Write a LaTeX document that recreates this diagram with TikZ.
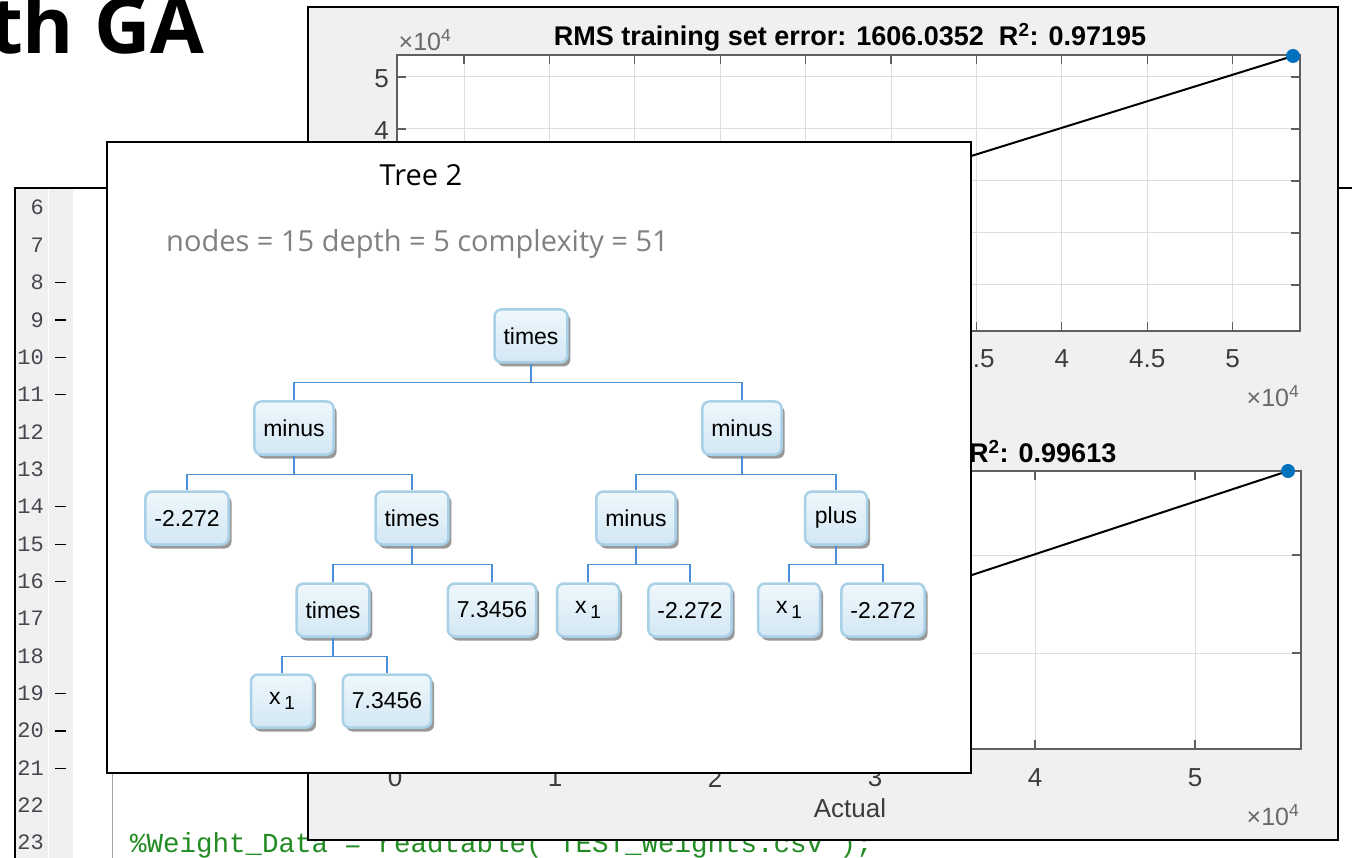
\documentclass[tikz,border=0pt]{standalone}
\usepackage{fontspec}
\setmainfont{Open Sans}
\newfontfamily\mlfont{Liberation Sans}
\newfontfamily\codefont[Ligatures=TeXOff]{Liberation Mono}
\usepackage{tikz}
\usetikzlibrary{positioning,calc,shadows}
\definecolor{figgrey}{RGB}{240,240,240}
\definecolor{guttergrey}{RGB}{240,240,240}
\definecolor{gridgrey}{RGB}{222,222,222}
\definecolor{axisgrey}{RGB}{95,95,95}
\definecolor{ticktext}{RGB}{60,60,60}
\definecolor{expgrey}{RGB}{105,105,105}
\definecolor{mlblue}{RGB}{0,114,189}
\definecolor{treeline}{RGB}{74,144,217}
\definecolor{boxedge}{RGB}{168,208,230}
\definecolor{boxtop}{RGB}{239,247,252}
\definecolor{boxbot}{RGB}{210,231,244}
\definecolor{codegreen}{RGB}{34,139,34}
\definecolor{lnumgrey}{RGB}{70,70,80}
\newcommand{\sz}[1]{\fontsize{#1}{#1}\selectfont}
\newcommand{\xone}{x\,\raisebox{-5pt}{\sz{19}1}}

\begin{document}
\begin{tikzpicture}[
      x=1pt, y=-1pt,
      tnode/.style={draw=boxedge, line width=2.5pt, rounded corners=7pt,
                    top color=boxtop, bottom color=boxbot, text=black,
                    minimum height=53pt, minimum width=62pt, inner xsep=9pt,
                    font=\mlfont\sz{23},
                    drop shadow={shadow xshift=3pt, shadow yshift=-4pt,
                                 opacity=0.4, fill=black}},
      link/.style={draw=treeline, line width=1.3pt},
      grid/.style={draw=gridgrey, line width=1pt},
      axis/.style={draw=axisgrey, line width=1.3pt},
      tlab/.style={font=\mlfont\sz{26}, text=ticktext, inner sep=0pt},
      xexp/.style={font=\mlfont\sz{25}, text=expgrey, inner sep=0pt},
      lnum/.style={font=\codefont\sz{22}, text=lnumgrey, inner sep=0pt, anchor=base east},
    ]
    \useasboundingbox (0,0) rectangle (1352,858);
    \clip (0,0) rectangle (1352,858);

    % slide heading
    \node[anchor=base east, inner sep=0pt, font=\bfseries\sz{78}] (heading) at (205,54) {th GA};

    % editor window
    \fill[white] (15,188) rectangle (1352,858);
    \fill[guttergrey] (16,189) rectangle (73,858);
    \draw[white, line width=1pt] (48,189) -- (48,858);
    \draw[black!35, line width=1pt] (112,188) -- (112,858);
    \draw[black, line width=1.6pt] (15,858) -- (15,188) -- (1352,188);
    \foreach \n in {6,...,23}
      \node[lnum] (ln\n) at (44,{215+(\n-6)*37.35}) {\n};
    \foreach \n in {8,9,10,11,14,15,16,19,20,21}
      \draw[black, line width=1.2pt] (55,{208+(\n-6)*37.35}) -- (66,{208+(\n-6)*37.35});
    \node[anchor=base west, inner sep=0pt, font=\codefont\sz{27.5}, text=codegreen] (wdata)
      at (130,852) {\%Weight\_Data = readtable('TEST\_Weights.csv');};

    % figure window
    \draw[fill=figgrey, line width=2pt] (308,7) rectangle (1338,840);

    % upper axes
    \fill[white] (397,55) rectangle (1300,331);
    \foreach \k in {0,...,9}
      \draw[grid] ({464+85.4*\k},55) -- ({464+85.4*\k},331);
    \foreach \v in {1,...,5}
      \draw[grid] (397,{77+52*(5-\v)}) -- (1300,{77+52*(5-\v)});
    \draw[black, line width=2pt] (408,331) -- (1293,56);
    \draw[axis] (397,55) rectangle (1300,331);
    \foreach \k in {0,...,9}{
      \draw[axis] ({464+85.4*\k},331) -- ({464+85.4*\k},322);
      \draw[axis] ({464+85.4*\k},55) -- ({464+85.4*\k},64);
    }
    \foreach \k/\lab in {6/3.5,7/4,8/4.5,9/5}
      \node[tlab] (ux\k) at ({464+85.4*\k},359) {\lab};
    \foreach \v in {1,...,5}{
      \draw[axis] (397,{77+52*(5-\v)}) -- (406,{77+52*(5-\v)});
      \draw[axis] (1300,{77+52*(5-\v)}) -- (1291,{77+52*(5-\v)});
    }
    \foreach \v in {4,5}
      \node[tlab, anchor=east] (uy\v) at (389,{79+52*(5-\v)}) {\v};
    \fill[mlblue] (1293,56) circle (7);
    \node[font=\mlfont\bfseries\sz{27}, inner sep=0pt] (utitle) at (850,37)
      {RMS training set error: 1606.0352~~R\textsuperscript{2}: 0.97195};
    \node[xexp] (uexp1) at (425,40) {×10\textsuperscript{4}};
    \node[xexp] (uexp2) at (1273,396) {×10\textsuperscript{4}};

    % lower axes
    \fill[white] (395,471) rectangle (1301,749);
    \foreach \k in {1,...,5}
      \draw[grid] ({395+160*\k},471) -- ({395+160*\k},749);
    \foreach \y in {555,653}
      \draw[grid] (395,\y) -- (1301,\y);
    \draw[black, line width=2pt] (443,749) -- (1288,471);
    \draw[axis] (395,471) rectangle (1301,749);
    \foreach \k in {0,...,5}{
      \draw[axis] ({395+160*\k},749) -- ({395+160*\k},740);
      \draw[axis] ({395+160*\k},471) -- ({395+160*\k},480);
      \node[tlab] (lx\k) at ({395+160*\k},778) {\k};
    }
    \foreach \y in {555,653}
      \draw[axis] (1301,\y) -- (1292,\y);
    \fill[mlblue] (1288,471) circle (7);
    \node[font=\mlfont\bfseries\sz{27}, inner sep=0pt, anchor=west] (ltitle) at (969,452)
      {R\textsuperscript{2}: 0.99613};
    \node[tlab] (actual) at (850,808) {Actual};
    \node[xexp] (lexp) at (1273,815) {×10\textsuperscript{4}};

    % tree window
    \draw[fill=white, line width=2pt] (107,142) rectangle (971,773);
    \node[font=\sz{29}, inner sep=0pt] (treetitle) at (421,175) {Tree 2};
    \node[font=\sz{29}, text=black!50, inner sep=0pt, anchor=west] (stats) at (166,244)
      {nodes = 15 depth = 5 complexity = 51};

    % tree nodes
    \node[tnode] (root) at (531,336) {times};
    \node[tnode] (mL) at (294,428) {minus};
    \node[tnode] (mR) at (742,428) {minus};
    \node[tnode] (cL) at (187,518) {-2.272};
    \node[tnode] (tL) at (412,518) {times};
    \node[tnode] (mRL) at (636,518) {minus};
    \node[tnode] (pR) at (836,518) {plus};
    \node[tnode] (tLL) at (333,610) {times};
    \node[tnode] (nL) at (492,610) {7.3456};
    \node[tnode] (xRL) at (588,610) {\xone};
    \node[tnode] (cRL) at (690,610) {-2.272};
    \node[tnode] (xRR) at (789,610) {\xone};
    \node[tnode] (cRR) at (883,610) {-2.272};
    \node[tnode] (xLL) at (282,701) {\xone};
    \node[tnode] (nLL) at (387,701) {7.3456};

    % tree links
    \foreach \p/\c in {root/mL,root/mR,mL/cL,mL/tL,mR/mRL,mR/pR,tL/tLL,tL/nL,
                       mRL/xRL,mRL/cRL,pR/xRR,pR/cRR,tLL/xLL,tLL/nLL}
      \draw[link] (\p.south) -- ++(0,19) -| (\c.north);
  \end{tikzpicture}
\end{document}
